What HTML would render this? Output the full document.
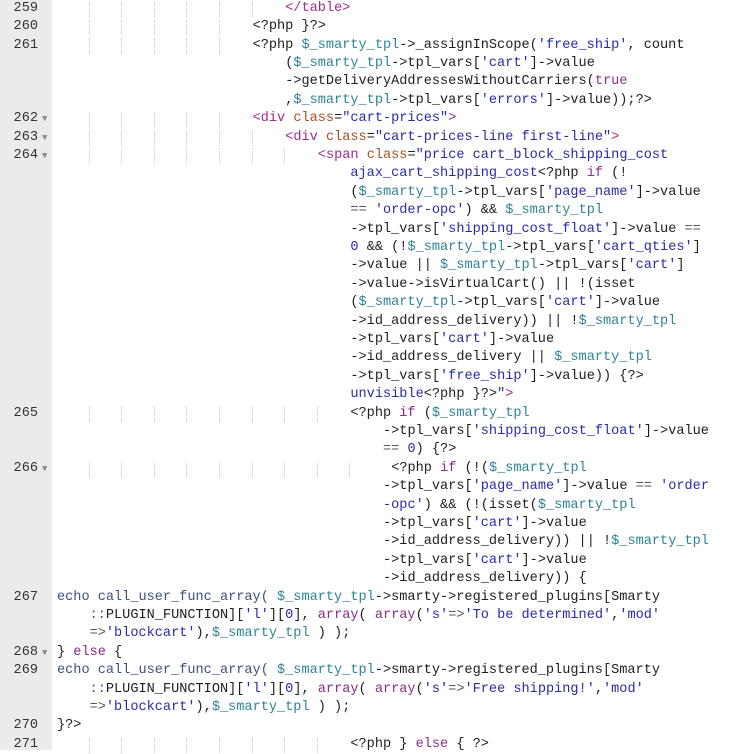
<!DOCTYPE html>
<html><head><meta charset="utf-8"><style>
html,body{margin:0;padding:0;background:#fff;width:744px;height:750px;overflow:hidden}
#g{position:absolute;left:0;top:0;width:52px;height:750px;background:#ebebeb}
.r{position:absolute;left:0;height:18.4px;line-height:18.4px;width:744px;font-family:"Liberation Mono",monospace;font-size:13.58px;color:#1e1e1e;white-space:pre}
.ln{position:absolute;left:0;width:38px;text-align:right;color:#333}
.fd{position:absolute;left:42px;color:#888;font-size:9px}
.c{position:absolute;left:57px}
.gd{position:absolute;top:2px;height:15px;border-left:1px dotted #c8c8c8}
.t{color:#a02c8c}.a{color:#a5521e}.s{color:#2a2aa8}.v{color:#2e8395}.k{color:#8a2c88}.n{color:#2a2aa8}.e{color:#3d507c}.o{color:#555}
</style></head><body><div id="g"></div>
<div id="code"></div>
<script>
var L=[
[259,0,28,'<span class="t">&lt;/table&gt;</span>',28],
[0,0,24,'&lt;?php }?&gt;',24],
[261,0,24,'&lt;?php <span class="v">$_smarty_tpl</span>-&gt;_assignInScope(<span class="s">\'free_ship\'</span>, count',24],
[0,0,28,'(<span class="v">$_smarty_tpl</span>-&gt;tpl_vars[<span class="s">\'cart\'</span>]-&gt;value',-1],
[0,0,28,'-&gt;getDeliveryAddressesWithoutCarriers(<span class="k">true</span>',-1],
[0,0,28,',<span class="v">$_smarty_tpl</span>-&gt;tpl_vars[<span class="s">\'errors\'</span>]-&gt;value));?&gt;',-1],
[262,1,24,'<span class="t">&lt;div</span> <span class="a">class</span>=<span class="s">"cart-prices"</span><span class="t">&gt;</span>',24],
[263,1,28,'<span class="t">&lt;div</span> <span class="a">class</span>=<span class="s">"cart-prices-line first-line"</span><span class="t">&gt;</span>',28],
[264,1,32,'<span class="t">&lt;span</span> <span class="a">class</span>=<span class="s">"price cart_block_shipping_cost</span>',32],
[0,0,36,'<span class="s">ajax_cart_shipping_cost</span>&lt;?php <span class="k">if</span> (!',-1],
[0,0,36,'(<span class="v">$_smarty_tpl</span>-&gt;tpl_vars[<span class="s">\'page_name\'</span>]-&gt;value',-1],
[0,0,36,'<span class="o">==</span> <span class="s">\'order-opc\'</span>) &amp;&amp; <span class="v">$_smarty_tpl</span>',-1],
[0,0,36,'-&gt;tpl_vars[<span class="s">\'shipping_cost_float\'</span>]-&gt;value <span class="o">==</span>',-1],
[0,0,36,'<span class="n">0</span> &amp;&amp; (!<span class="v">$_smarty_tpl</span>-&gt;tpl_vars[<span class="s">\'cart_qties\'</span>]',-1],
[0,0,36,'-&gt;value || <span class="v">$_smarty_tpl</span>-&gt;tpl_vars[<span class="s">\'cart\'</span>]',-1],
[0,0,36,'-&gt;value-&gt;isVirtualCart() || !(isset',-1],
[0,0,36,'(<span class="v">$_smarty_tpl</span>-&gt;tpl_vars[<span class="s">\'cart\'</span>]-&gt;value',-1],
[0,0,36,'-&gt;id_address_delivery)) || !<span class="v">$_smarty_tpl</span>',-1],
[0,0,36,'-&gt;tpl_vars[<span class="s">\'cart\'</span>]-&gt;value',-1],
[0,0,36,'-&gt;id_address_delivery || <span class="v">$_smarty_tpl</span>',-1],
[0,0,36,'-&gt;tpl_vars[<span class="s">\'free_ship\'</span>]-&gt;value)) {?&gt;',-1],
[0,0,36,'<span class="s">unvisible</span>&lt;?php }?&gt;<span class="s">"</span><span class="t">&gt;</span>',-1],
[265,0,36,'&lt;?php <span class="k">if</span> (<span class="v">$_smarty_tpl</span>',36],
[0,0,40,'-&gt;tpl_vars[<span class="s">\'shipping_cost_float\'</span>]-&gt;value',-1],
[0,0,40,'<span class="o">==</span> <span class="n">0</span>) {?&gt;',-1],
[266,1,41,'&lt;?php <span class="k">if</span> (!(<span class="v">$_smarty_tpl</span>',40],
[0,0,40,'-&gt;tpl_vars[<span class="s">\'page_name\'</span>]-&gt;value <span class="o">==</span> <span class="s">\'order</span>',-1],
[0,0,40,'<span class="s">-opc\'</span>) &amp;&amp; (!(isset(<span class="v">$_smarty_tpl</span>',-1],
[0,0,40,'-&gt;tpl_vars[<span class="s">\'cart\'</span>]-&gt;value',-1],
[0,0,40,'-&gt;id_address_delivery)) || !<span class="v">$_smarty_tpl</span>',-1],
[0,0,40,'-&gt;tpl_vars[<span class="s">\'cart\'</span>]-&gt;value',-1],
[0,0,40,'-&gt;id_address_delivery)) {',-1],
[267,0,0,'<span class="e">echo call_user_func_array(</span> <span class="v">$_smarty_tpl</span>-&gt;smarty-&gt;registered_plugins[Smarty',0],
[0,0,4,'<span class="o">::</span>PLUGIN_FUNCTION][<span class="s">\'l\'</span>][<span class="n">0</span>], <span class="k">array</span>( <span class="k">array</span>(<span class="s">\'s\'</span><span class="o">=&gt;</span><span class="s">\'To be determined\'</span>,<span class="s">\'mod\'</span>',-1],
[0,0,4,'<span class="o">=&gt;</span><span class="s">\'blockcart\'</span>),<span class="v">$_smarty_tpl</span> ) );',-1],
[268,1,0,'} <span class="k">else</span> {',0],
[269,0,0,'<span class="e">echo call_user_func_array(</span> <span class="v">$_smarty_tpl</span>-&gt;smarty-&gt;registered_plugins[Smarty',0],
[0,0,4,'<span class="o">::</span>PLUGIN_FUNCTION][<span class="s">\'l\'</span>][<span class="n">0</span>], <span class="k">array</span>( <span class="k">array</span>(<span class="s">\'s\'</span><span class="o">=&gt;</span><span class="s">\'Free shipping!\'</span>,<span class="s">\'mod\'</span>',-1],
[0,0,4,'<span class="o">=&gt;</span><span class="s">\'blockcart\'</span>),<span class="v">$_smarty_tpl</span> ) );',-1],
[270,0,0,'}?&gt;',0],
[271,0,36,'&lt;?php } <span class="k">else</span> { ?&gt;',36]
];
L[1][0]=260;
var h='',cw=8.15;
L.forEach(function(l,i){
 var y=(i*18.4-0.2).toFixed(2);
 h+='<div class="r" style="top:'+y+'px">';
 if(l[0])h+='<span class="ln">'+l[0]+'</span>';
 if(l[1])h+='<span class="fd">&#9660;</span>';
 for(var c=4;c<l[4];c+=4)h+='<span class="gd" style="left:'+(57+c*cw-1).toFixed(1)+'px"></span>';
 h+='<span class="c" style="left:'+(57+l[2]*cw).toFixed(1)+'px">'+l[3]+'</span></div>';
});
document.getElementById('code').innerHTML=h;
</script>
</body></html>
